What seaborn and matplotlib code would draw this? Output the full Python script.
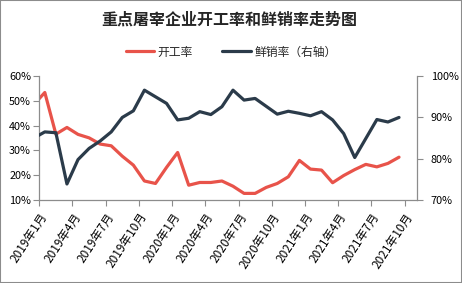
import matplotlib
matplotlib.use('Agg')
import matplotlib.pyplot as plt
import matplotlib.transforms as mtransforms
import seaborn as sns
import pandas as pd
import numpy as np
from matplotlib.patches import Rectangle
from matplotlib.lines import Line2D

# Monthly data, first value (2018-12) lies left of the axis and is clipped
months = ['2018-12',
          '2019-01', '2019-02', '2019-03', '2019-04', '2019-05', '2019-06',
          '2019-07', '2019-08', '2019-09', '2019-10', '2019-11', '2019-12',
          '2020-01', '2020-02', '2020-03', '2020-04', '2020-05', '2020-06',
          '2020-07', '2020-08', '2020-09', '2020-10', '2020-11', '2020-12',
          '2021-01', '2021-02', '2021-03', '2021-04', '2021-05', '2021-06',
          '2021-07', '2021-08', '2021-09']
kaigong = [48.5,
           53.4, 36.6, 39.3, 36.5, 35.1, 32.6,
           31.9, 27.7, 24.1, 17.7, 16.7, 23.2,
           29.2, 16.0, 17.1, 17.1, 17.7, 15.6,
           12.7, 12.7, 15.1, 16.7, 19.4, 26.0,
           22.5, 22.1, 17.0, 19.9, 22.3, 24.4,
           23.4, 24.8, 27.3]
xianxiao = [85.0,
            86.5, 86.3, 73.9, 79.8, 82.5, 84.3,
            86.5, 90.0, 91.6, 96.6, 95.0, 93.4,
            89.4, 89.8, 91.4, 90.7, 92.6, 96.6,
            94.2, 94.6, 92.7, 90.8, 91.5, 91.0,
            90.4, 91.4, 89.4, 86.1, 80.3, 84.9,
            89.5, 88.9, 90.0]
tick_labels = ['2019年1月', '2019年4月', '2019年7月', '2019年10月',
               '2020年1月', '2020年4月', '2020年7月', '2020年10月',
               '2021年1月', '2021年4月', '2021年7月', '2021年10月']
left_ticks = [10, 20, 30, 40, 50, 60]
right_ticks = [70, 80, 90, 100]
title = '重点屠宰企业开工率和鲜销率走势图'
name1 = '开工率'
name2 = '鲜销率（右轴）'

RED = '#E8534A'
DARK = '#2B3B4A'
GRAY = '#8C8C8C'

sns.set_style('ticks')
plt.rcParams['font.family'] = ['Noto Sans CJK SC', 'DejaVu Sans']

# month index (2019-01 = 0), points at mid-month
pos = np.arange(len(months)) - 1 + 0.5
df = pd.DataFrame({'pos': pos, 'kaigong': kaigong, 'xianxiao': xianxiao})

fig = plt.figure(figsize=(4.62, 2.83), dpi=100)
fig.subplots_adjust(left=0.085, right=0.902, bottom=0.293, top=0.731)
ax = fig.add_subplot(111)
ax2 = ax.twinx()

sns.lineplot(data=df, x='pos', y='kaigong', ax=ax, color=RED, linewidth=2.3)
sns.lineplot(data=df, x='pos', y='xianxiao', ax=ax2, color=DARK, linewidth=2.3)

ax.set_xlim(0, 34.1)
ax.set_ylim(10, 60)
ax2.set_ylim(70, 100)
ax.set_xlabel('')
ax.set_ylabel('')
ax2.set_ylabel('')

ax.set_yticks(left_ticks, [f'{v}%' for v in left_ticks])
ax2.set_yticks(right_ticks, [f'{v}%' for v in right_ticks])
ax.set_xticks(np.arange(0, 34, 3))
ax.set_xticklabels(tick_labels, rotation=57, ha='right', rotation_mode='anchor', fontsize=8.5)
off = mtransforms.ScaledTranslation(8 / 100, -6 / 100, fig.dpi_scale_trans)
for lab in ax.get_xticklabels():
    lab.set_transform(lab.get_transform() + off)

for a in (ax, ax2):
    a.spines['top'].set_visible(False)
    for s in a.spines.values():
        s.set_color(GRAY)
        s.set_linewidth(0.9)
    a.tick_params(axis='both', direction='out', length=4, width=0.8, color=GRAY,
                  labelcolor='black')
    a.tick_params(axis='y', labelsize=7.8)
ax.spines['right'].set_visible(False)
ax2.spines['left'].set_visible(False)
ax2.spines['bottom'].set_visible(False)
ax.tick_params(axis='y', pad=2)
ax2.tick_params(axis='y', pad=6)

fig.text(0.497, 1 - 20 / 283, title, ha='center', va='center', fontsize=11.5, fontweight='bold')

handles = [Line2D([], [], color=RED, linewidth=2.3), Line2D([], [], color=DARK, linewidth=2.3)]
fig.legend(handles, [name1, name2], loc='center', bbox_to_anchor=(0.50, 1 - 52 / 283),
           ncol=2, frameon=False, fontsize=8.5, handlelength=2.4, columnspacing=2.5,
           handletextpad=0.3)

fig.patches.append(Rectangle((0, 0), 1, 1, transform=fig.transFigure, fill=False,
                             edgecolor=GRAY, linewidth=1.5))

fig.savefig('out.png', dpi=100, facecolor='white')
